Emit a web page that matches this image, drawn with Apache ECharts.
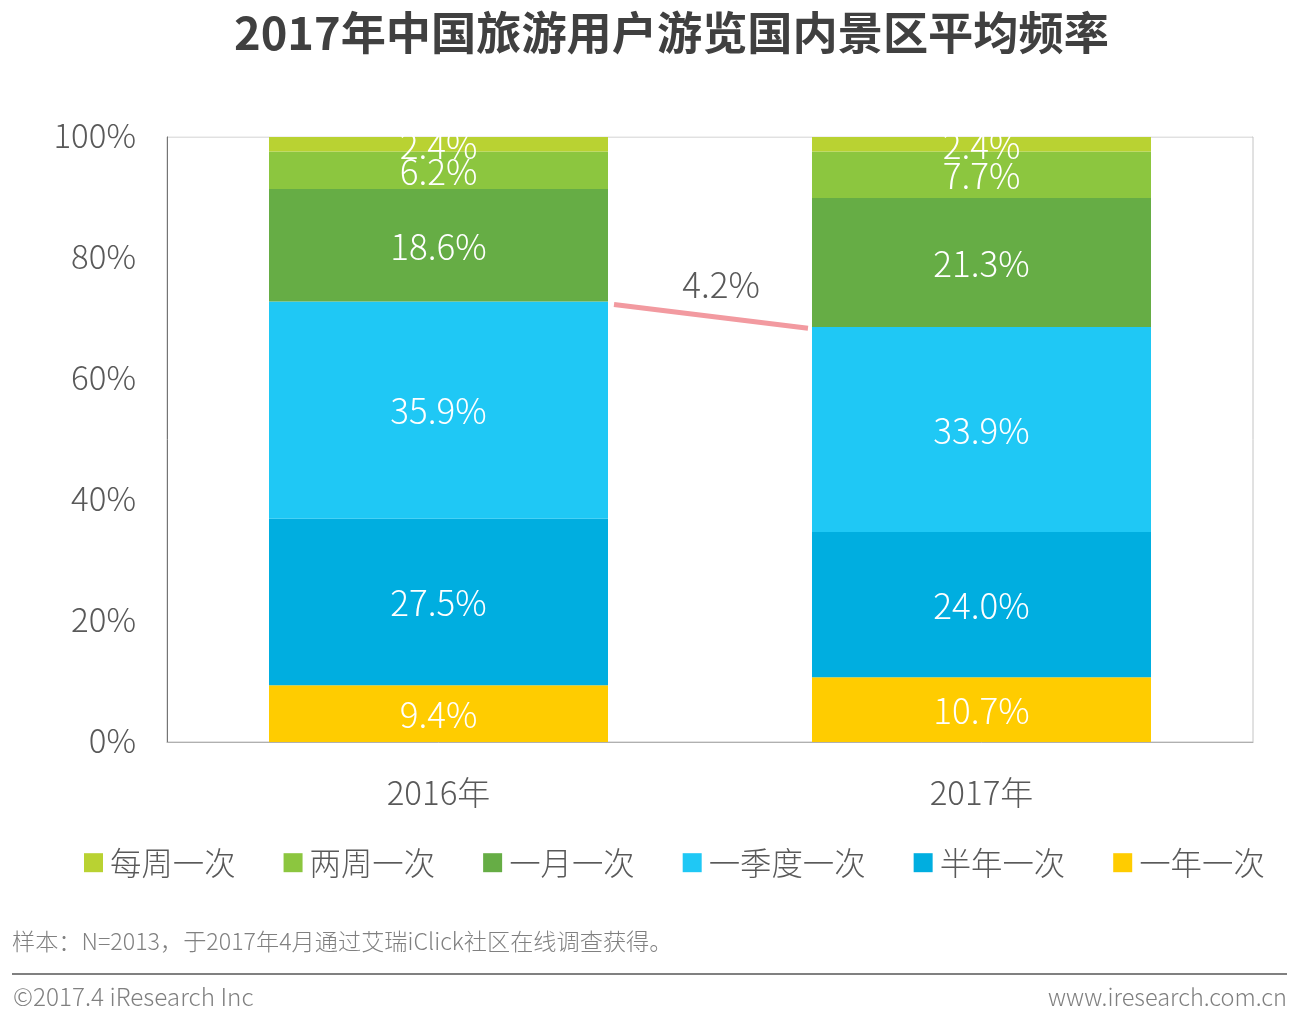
<!DOCTYPE html>
<html lang="zh">
<head>
    <meta charset="UTF-8">
    <title>2017年中国旅游用户游览国内景区平均频率</title>
    <script src="https://cdn.jsdelivr.net/npm/echarts@6/dist/echarts.min.js"></script>
    <style>
        html, body { margin: 0; padding: 0; background: #fff; }
        #main { width: 1300px; height: 1012px; }
    </style>
</head>
<body>
<div id="main"></div>
<script>
    var categories = ['2016年', '2017年'];
    var yearly = [9.4, 10.7];
    var halfYearly = [27.5, 24.0];
    var quarterly = [35.9, 33.9];
    var monthly = [18.6, 21.3];
    var biweekly = [6.2, 7.7];
    var weekly = [2.4, 2.4];
    var legendOrder = ['每周一次', '两周一次', '一月一次', '一季度一次', '半年一次', '一年一次'];
    // 粉色连线两端的高度
    var connector = [72.3, 68.4];
    var connectorLabel = '4.2%';

    var FONT = '"Noto Sans CJK SC", "Noto Sans", sans-serif';
    var BAR_WIDTH = 339;

    function barSeries(name, values, color) {
        return {
            name: name,
            type: 'bar',
            stack: 'total',
            barWidth: BAR_WIDTH,
            data: values,
            itemStyle: { color: color },
            label: {
                show: true,
                position: 'inside',
                offset: [0, 1],
                color: '#fff',
                fontFamily: FONT,
                fontWeight: 300,
                fontSize: 35,
                formatter: function (p) { return p.value.toFixed(1) + '%'; }
            }
        };
    }

    var myChart = echarts.init(document.getElementById('main'), null, { renderer: 'canvas' });

    var option = {
        animation: false,
        backgroundColor: '#fff',
        title: {
            text: '2017年中国旅游用户游览国内景区平均频率',
            left: 229,
            top: 5,
            textStyle: { fontFamily: FONT, fontSize: 45.2, fontWeight: 'bold', color: '#404040' }
        },
        grid: { left: 167, right: 47, top: 137, height: 605, show: true, borderColor: '#c4c4c4', borderWidth: 1 },
        legend: {
            data: legendOrder,
            left: 84,
            top: 847,
            padding: 0,
            itemWidth: 19,
            itemHeight: 19,
            itemGap: 48,
            icon: 'rect',
            textStyle: { fontFamily: FONT, fontWeight: 300, fontSize: 31.4, color: '#595959', padding: [0, 0, 0, 2] }
        },
        xAxis: {
            type: 'category',
            data: categories,
            axisTick: { show: false },
            axisLine: { lineStyle: { color: '#b0b0b0', width: 1 } },
            axisLabel: { margin: 34, fontFamily: FONT, fontWeight: 300, fontSize: 33, color: '#595959' }
        },
        yAxis: {
            type: 'value',
            min: 0,
            max: 100,
            interval: 20,
            splitLine: { show: false },
            axisTick: { show: false },
            axisLine: { show: true, lineStyle: { color: '#757575', width: 1 } },
            axisLabel: { margin: 31, verticalAlign: 'bottom', lineHeight: 4, formatter: '{value}%', fontFamily: FONT, fontWeight: 300, fontSize: 33, color: '#595959' }
        },
        series: [
            barSeries('一年一次', yearly, '#FFCC00'),
            barSeries('半年一次', halfYearly, '#00AEE0'),
            barSeries('一季度一次', quarterly, '#1FC8F5'),
            barSeries('一月一次', monthly, '#66AD45'),
            barSeries('两周一次', biweekly, '#8CC63F'),
            barSeries('每周一次', weekly, '#B9D232'),
            {
                type: 'custom',
                silent: true,
                clip: false,
                z: 5,
                data: [connector],
                renderItem: function (params, api) {
                    var a = api.coord([0, connector[0]]);
                    var b = api.coord([1, connector[1]]);
                    var x1 = a[0] + BAR_WIDTH / 2 + 6;
                    var x2 = b[0] - BAR_WIDTH / 2 - 4;
                    return {
                        type: 'group',
                        children: [
                            {
                                type: 'line',
                                shape: { x1: x1, y1: a[1], x2: x2, y2: b[1] },
                                style: { stroke: '#F29AA0', lineWidth: 5 }
                            },
                            {
                                type: 'text',
                                style: {
                                    x: (x1 + x2) / 2 + 10,
                                    y: (a[1] + b[1]) / 2 - 32,
                                    text: connectorLabel,
                                    fill: '#595959',
                                    font: '300 35px ' + FONT,
                                    align: 'center',
                                    verticalAlign: 'middle'
                                }
                            }
                        ]
                    };
                }
            }
        ],
        graphic: [
            // 盖住超出图表顶边的标签，原图的 2.4% 在此被裁切
            {
                type: 'rect',
                z: 100,
                shape: { x: 168, y: 110, width: 1084, height: 26.5 },
                style: { fill: '#fff' }
            },
            {
                type: 'text', left: 12, top: 930,
                style: { text: '样本：N=2013，于2017年4月通过艾瑞iClick社区在线调查获得。', fill: '#808080', font: '300 23.2px ' + FONT }
            },
            {
                type: 'line',
                shape: { x1: 12, y1: 974, x2: 1287, y2: 974 },
                style: { stroke: '#808080', lineWidth: 2 }
            },
            {
                type: 'text', left: 13, top: 985,
                style: { text: '©2017.4 iResearch Inc', fill: '#808080', font: '300 24.3px ' + FONT }
            },
            {
                type: 'text', right: 13, top: 985,
                style: { text: 'www.iresearch.com.cn', fill: '#808080', font: '300 23.5px ' + FONT }
            }
        ]
    };

    myChart.setOption(option);
</script>
</body>
</html>
